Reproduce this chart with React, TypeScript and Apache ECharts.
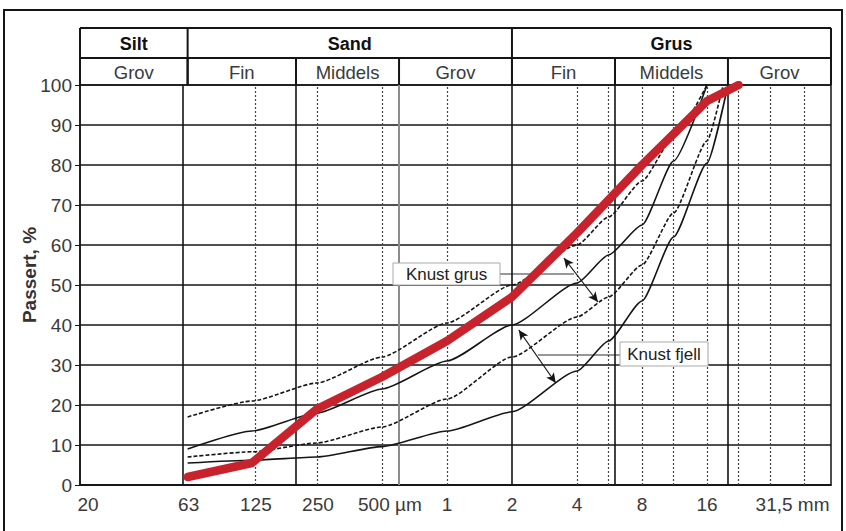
import React, { useEffect, useRef } from 'react';
import * as echarts from 'echarts';

// ---- data (grain size in mm, passing in %) ----
const redSizes = [0.063, 0.125, 0.25, 0.5, 1, 2, 4, 8, 16, 22.4];
const redPassing = [2, 5.5, 19, 27, 36, 47, 63, 80, 96, 100];

const grusUpperSizes = [0.063, 0.125, 0.25, 0.5, 1, 2, 4, 5.6, 8, 11.2, 16];
const grusUpperPassing = [17, 21, 25.5, 32, 40.5, 50, 60, 67, 76, 87, 100];

const grusLowerSizes = [0.063, 0.125, 0.25, 0.5, 1, 2, 4, 5.6, 8, 11.2, 16, 19];
const grusLowerPassing = [7, 8.3, 10.5, 14.5, 21.5, 32, 42, 47, 55, 68, 86, 100];

const fjellUpperSizes = [0.063, 0.125, 0.25, 0.5, 1, 2, 4, 5.6, 8, 11.2, 16];
const fjellUpperPassing = [9, 13.5, 18, 24, 31, 40, 50.5, 57.5, 65, 81, 100];

const fjellLowerSizes = [0.063, 0.125, 0.25, 0.5, 1, 2, 4, 5.6, 8, 11.2, 16, 20];
const fjellLowerPassing = [5.5, 6.2, 7, 9.6, 13.5, 18.3, 28.5, 36, 46, 62, 80.5, 100];

const xTickValues = [0.02, 0.063, 0.125, 0.25, 0.5, 1, 2, 4, 8, 16, 31.5];
const xTickLabels = ['20', '63', '125', '250', '500 µm', '1', '2', '4', '8', '16', '31,5 mm'];

const mainNames = ['Silt', 'Sand', 'Grus'];
const mainBounds = [0.02, 0.063, 2, 60];
const subNames = ['Grov', 'Fin', 'Middels', 'Grov', 'Fin', 'Middels', 'Grov'];
const subBounds = [0.02, 0.063, 0.2, 0.6, 2, 6, 20, 60];

const solidLines = [0.063, 0.2, 2, 6, 20];
const greyLines = [0.6];
const dottedLines = [0.125, 0.25, 0.5, 1, 4, 5.6, 8, 11.2, 16, 22.4, 31.5, 45];

const grusArrow = [[3.48, 56.75], [5.0, 45.75]];
const fjellArrow = [[2.15, 38.75], [3.19, 25.5]];

const labelOffsets = [8, 1, 4, 1, 8, 0, 0, 0, 0, 0, 22];

const FONT = '"Liberation Sans", Arial, sans-serif';

const pairs = (s: number[], p: number[]) => s.map((v, i) => [v, p[i]]);

export default function App() {
  const ref = useRef<HTMLDivElement>(null);
  useEffect(() => {
    document.body.style.margin = '0';
    const chart = echarts.init(ref.current!, undefined, { renderer: 'svg' });
    const black = '#151515';
    const curve = (name: string, data: number[][], dashed: boolean) => ({
      type: 'line', name, data, showSymbol: false, symbol: 'none', z: 5,
      smooth: 0.2, smoothMonotone: 'x',
      lineStyle: { color: black, width: 1.6, type: dashed ? [4, 2] : 'solid' },
      silent: true,
    });
    chart.setOption({
      animation: false,
      backgroundColor: '#fff',
      grid: { left: 80, top: 85, width: 751, height: 400, show: true, borderColor: black, borderWidth: 1.5 },
      xAxis: {
        type: 'log', logBase: 10, min: 0.02, max: 60,
        axisLine: { show: true, lineStyle: { color: black, width: 1.5 } },
        axisTick: { show: false }, axisLabel: { show: false },
        splitLine: { show: false }, minorTick: { show: false }, minorSplitLine: { show: false },
      },
      yAxis: {
        type: 'value', min: 0, max: 100, interval: 10,
        axisLine: { show: true, lineStyle: { color: black, width: 1.5 } },
        axisTick: { show: true, length: 5, lineStyle: { color: black } },
        axisLabel: { fontSize: 19, color: '#3a3a3a', fontFamily: FONT, margin: 8 },
        splitLine: { show: true, lineStyle: { color: black, width: 1.5 } },
      },
      series: [
        {
          type: 'line', name: 'grid', data: [], z: 1, silent: true,
          markLine: {
            silent: true, symbol: 'none', label: { show: false },
            data: [
              ...solidLines.map((v) => ({ xAxis: v, lineStyle: { color: black, width: 1.6, type: 'solid' } })),
              ...greyLines.map((v) => ({ xAxis: v, lineStyle: { color: '#8c8c8c', width: 2, type: 'solid' } })),
              ...dottedLines.map((v) => ({ xAxis: v, lineStyle: { color: '#444', width: 1.2, type: [2, 2] } })),
            ],
          },
        },
        curve('Knust grus øvre', pairs(grusUpperSizes, grusUpperPassing), true),
        curve('Knust grus nedre', pairs(grusLowerSizes, grusLowerPassing), true),
        curve('Knust fjell øvre', pairs(fjellUpperSizes, fjellUpperPassing), false),
        {
          ...curve('Knust fjell nedre', pairs(fjellLowerSizes, fjellLowerPassing), false),
          markLine: {
            silent: true, symbol: ['arrow', 'arrow'], symbolSize: [7, 10],
            label: { show: false },
            lineStyle: { color: black, width: 1.2, type: 'solid' },
            data: [
              [{ coord: grusArrow[0] }, { coord: grusArrow[1] }],
              [{ coord: fjellArrow[0] }, { coord: fjellArrow[1] }],
            ],
          },
        },
        {
          type: 'line', name: 'Kurve', data: pairs(redSizes, redPassing), showSymbol: false, symbol: 'none',
          z: 10, silent: true,
          lineStyle: { color: '#c8232c', width: 8.5, cap: 'round', join: 'round' },
        },
      ],
    });

    const px = (v: number) => chart.convertToPixel({ xAxisIndex: 0 }, v) as number;
    const hTop = 28, hMid = 58, hBot = 85;
    const lineEl = (x1: number, y1: number, x2: number, y2: number, w = 2, color = black, z = 20) => ({
      type: 'line', z, shape: { x1, y1, x2, y2 }, style: { stroke: color, lineWidth: w }, silent: true,
    });
    const textEl = (text: string, x: number, y: number, font: string, fill = '#333', z = 30, rotation = 0) => ({
      type: 'text', x, y, z, rotation, silent: true,
      style: { text, fill, font, align: 'center', verticalAlign: 'middle' },
    });
    const g: any[] = [];
    g.push({ type: 'rect', z: 0, shape: { x: 4, y: 10, width: 838, height: 540 }, style: { fill: 'none', stroke: black, lineWidth: 2 }, silent: true });
    const xl = px(mainBounds[0]), xr = px(mainBounds[mainBounds.length - 1]);
    g.push(lineEl(xl, hTop, xr, hTop));
    g.push(lineEl(xl, hMid, xr, hMid));
    mainBounds.forEach((b) => g.push(lineEl(px(b), hTop, px(b), hBot)));
    subBounds.forEach((b) => g.push(lineEl(px(b), hMid, px(b), hBot)));
    mainNames.forEach((n, i) => {
      const cx = (px(mainBounds[i]) + px(mainBounds[i + 1])) / 2;
      g.push(textEl(n, cx, (hTop + hMid) / 2 + 1, `bold 18px ${FONT}`, '#111'));
    });
    subNames.forEach((n, i) => {
      const cx = (px(subBounds[i]) + px(subBounds[i + 1])) / 2;
      g.push(textEl(n, cx, (hMid + hBot) / 2 + 1, `18.5px ${FONT}`, '#3a3a3a'));
    });
    xTickValues.forEach((v, i) => {
      g.push(textEl(xTickLabels[i], px(v) + labelOffsets[i], 504, `19px ${FONT}`, '#3a3a3a'));
    });
    g.push(textEl('Passert, %', 29, 275, `bold 19px ${FONT}`, '#333', 30, Math.PI / 2));

    // annotation labels
    g.push(lineEl(500, 274, 574, 274, 1.2, '#333', 3));
    g.push({ type: 'rect', z: 25, shape: { x: 393, y: 263, width: 107, height: 22 }, style: { fill: '#fff', stroke: '#aaa', lineWidth: 1 }, silent: true });
    g.push(textEl('Knust grus', 446.5, 274.5, `17px ${FONT}`, '#222'));
    g.push(lineEl(538, 355, 620, 355, 1.2, '#333', 3));
    g.push({ type: 'rect', z: 25, shape: { x: 620, y: 342, width: 88, height: 24 }, style: { fill: '#fff', stroke: '#aaa', lineWidth: 1 }, silent: true });
    g.push(textEl('Knust fjell', 664, 354.5, `17px ${FONT}`, '#222'));

    chart.setOption({ graphic: g });
    return () => chart.dispose();
  }, []);
  return <div ref={ref} style={{ width: 846, height: 531, background: '#fff' }} />;
}
